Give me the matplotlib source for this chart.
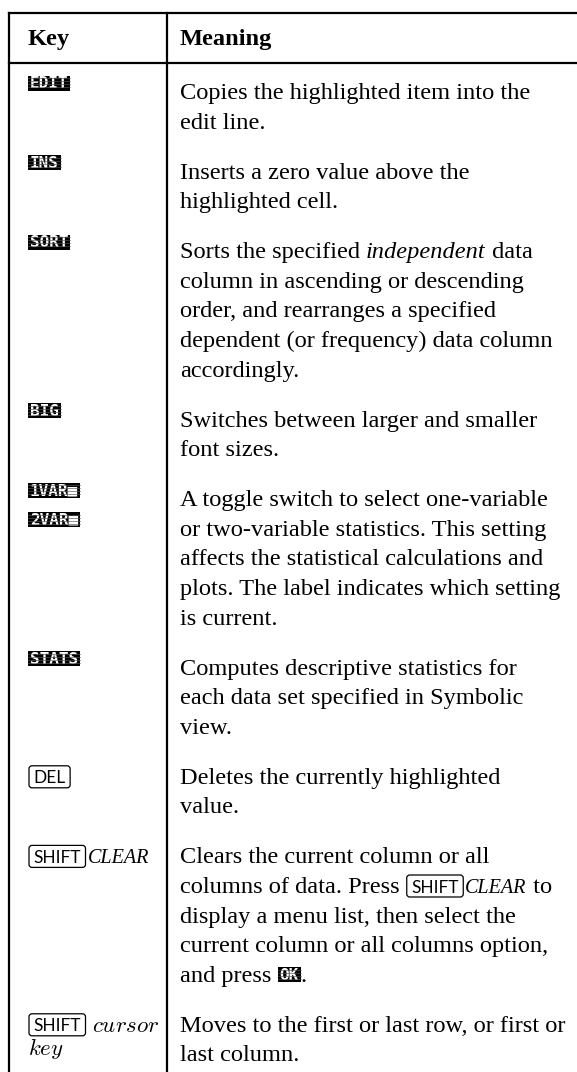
import matplotlib
matplotlib.use("Agg")
import matplotlib.pyplot as plt
from matplotlib.patches import Rectangle, FancyBboxPatch

SERIF = "Liberation Serif"
SANS = "Lato"
MONO = "DejaVu Sans Mono"
BODY = 17.6

# table content
header = ["Key", "Meaning"]

key_lines = [
    [[("soft", "EDIT")]],
    [[("soft", "INS")]],
    [[("soft", "SORT")]],
    [[("soft", "BIG")]],
    [[("soft", "1VAR\u25a0")], [("soft", "2VAR\u25a0")]],
    [[("soft", "STATS")]],
    [[("key", "DEL")]],
    [[("key", "SHIFT"), ("itsm", "CLEAR")]],
    [[("key", "SHIFT"), ("math", " cursor")], [("math", "key")]],
]

meaning_lines = [
    ["Copies the highlighted item into the", "edit line."],
    ["Inserts a zero value above the", "highlighted cell."],
    [[("rm", "Sorts the specified "), ("it", "independent"), ("rm", " data")],
     "column in ascending or descending",
     "order, and rearranges a specified",
     "dependent (or frequency) data column",
     "accordingly."],
    ["Switches between larger and smaller", "font sizes."],
    ["A toggle switch to select one-variable",
     "or two-variable statistics. This setting",
     "affects the statistical calculations and",
     "plots. The label indicates which setting",
     "is current."],
    ["Computes descriptive statistics for",
     "each data set specified in Symbolic",
     "view."],
    ["Deletes the currently highlighted", "value."],
    ["Clears the current column or all",
     [("rm", "columns of data. Press "), ("key", "SHIFT"), ("itsm", "CLEAR"), ("rm", " to")],
     "display a menu list, then select the",
     "current column or all columns option,",
     [("rm", "and press "), ("soft", "OK"), ("rm", ".")]],
    ["Moves to the first or last row, or first or", "last column."],
]

LINE = 29.6
GAP = 50

fig = plt.figure(figsize=(5.77, 10.72), dpi=100)
ax = fig.add_axes([0, 0, 1, 1])
ax.set_xlim(0, 577)
ax.set_ylim(1072, 0)
ax.axis("off")
rend = fig.canvas.get_renderer()


def text_w(s, **kw):
    a = ax.text(0, 0, "X" + s + "X", **kw)
    b = ax.text(0, 0, "XX", **kw)
    w = a.get_window_extent(rend).width - b.get_window_extent(rend).width
    a.remove()
    b.remove()
    return w


def soft_key(x, mid, label):
    w = 9.6 * len(label) + 4
    h = 15
    ax.add_patch(Rectangle((x, mid - h / 2), w, h, color="black", lw=0, zorder=2))
    ax.text(x + w / 2, mid + 0.5, label, color="white", fontfamily=MONO,
            fontweight="bold", fontsize=11.5, ha="center", va="center", zorder=3)
    for k in (-5, -2, 1, 4):
        ax.plot([x, x + w], [mid + k] * 2, color="#555555", lw=0.45, zorder=4)
    return w


def hard_key(x, base, label):
    kw = dict(fontfamily=SANS, fontsize=12.5)
    tw = text_w(label, **kw)
    pad = 4.5
    ax.add_patch(FancyBboxPatch((x + 1, base - 18), tw + 2 * pad, 22,
                                boxstyle="round,pad=0,rounding_size=3",
                                fc="none", ec="black", lw=0.9))
    ax.text(x + 1 + pad, base - 0.5, label, va="baseline", **kw)
    return tw + 2 * pad + 3


def draw_runs(x, base, runs, raised=False):
    if isinstance(runs, str):
        runs = [("rm", runs)]
    for style, s in runs:
        if style == "soft":
            mid = base - 16 if raised else base - 7
            x += soft_key(x, mid, s)
        elif style == "key":
            x += hard_key(x, base, s)
        elif style == "math":
            kw = dict(fontsize=16.5, math_fontfamily="cm")
            t = ax.text(x, base, "$" + s.strip() + "$", va="baseline", **kw)
            lead = 4 if s.startswith(" ") else 0
            t.set_x(x + lead)
            x += t.get_window_extent(rend).width + lead
        else:
            kw = dict(fontfamily=SERIF, fontsize=14.5 if style == "itsm" else BODY,
                      fontstyle="normal" if style == "rm" else "italic")
            ax.text(x, base, s, va="baseline", **kw)
            x += text_w(s, **kw)


# grid lines
LW = 1.6
ax.plot([9, 577], [12.5, 12.5], color="black", lw=LW)
ax.plot([9, 577], [63, 63], color="black", lw=LW)
ax.plot([9, 9], [12.5, 1072], color="black", lw=LW)
ax.plot([167, 167], [12.5, 1072], color="black", lw=LW)

# header
for hx, h in zip([28, 180], header):
    ax.text(hx, 45, h, fontfamily=SERIF, fontweight="bold", fontsize=BODY, va="baseline")

# rows
base = 99
for keys, lines in zip(key_lines, meaning_lines):
    for i, ln in enumerate(lines):
        draw_runs(180, base + i * LINE, ln)
    for i, kl in enumerate(keys):
        off = -6 if kl[0][0] == "math" else 0
        draw_runs(28, base + i * LINE + off, kl, raised=True)
    base += (len(lines) - 1) * LINE + GAP

fig.savefig("out.png", dpi=100)
